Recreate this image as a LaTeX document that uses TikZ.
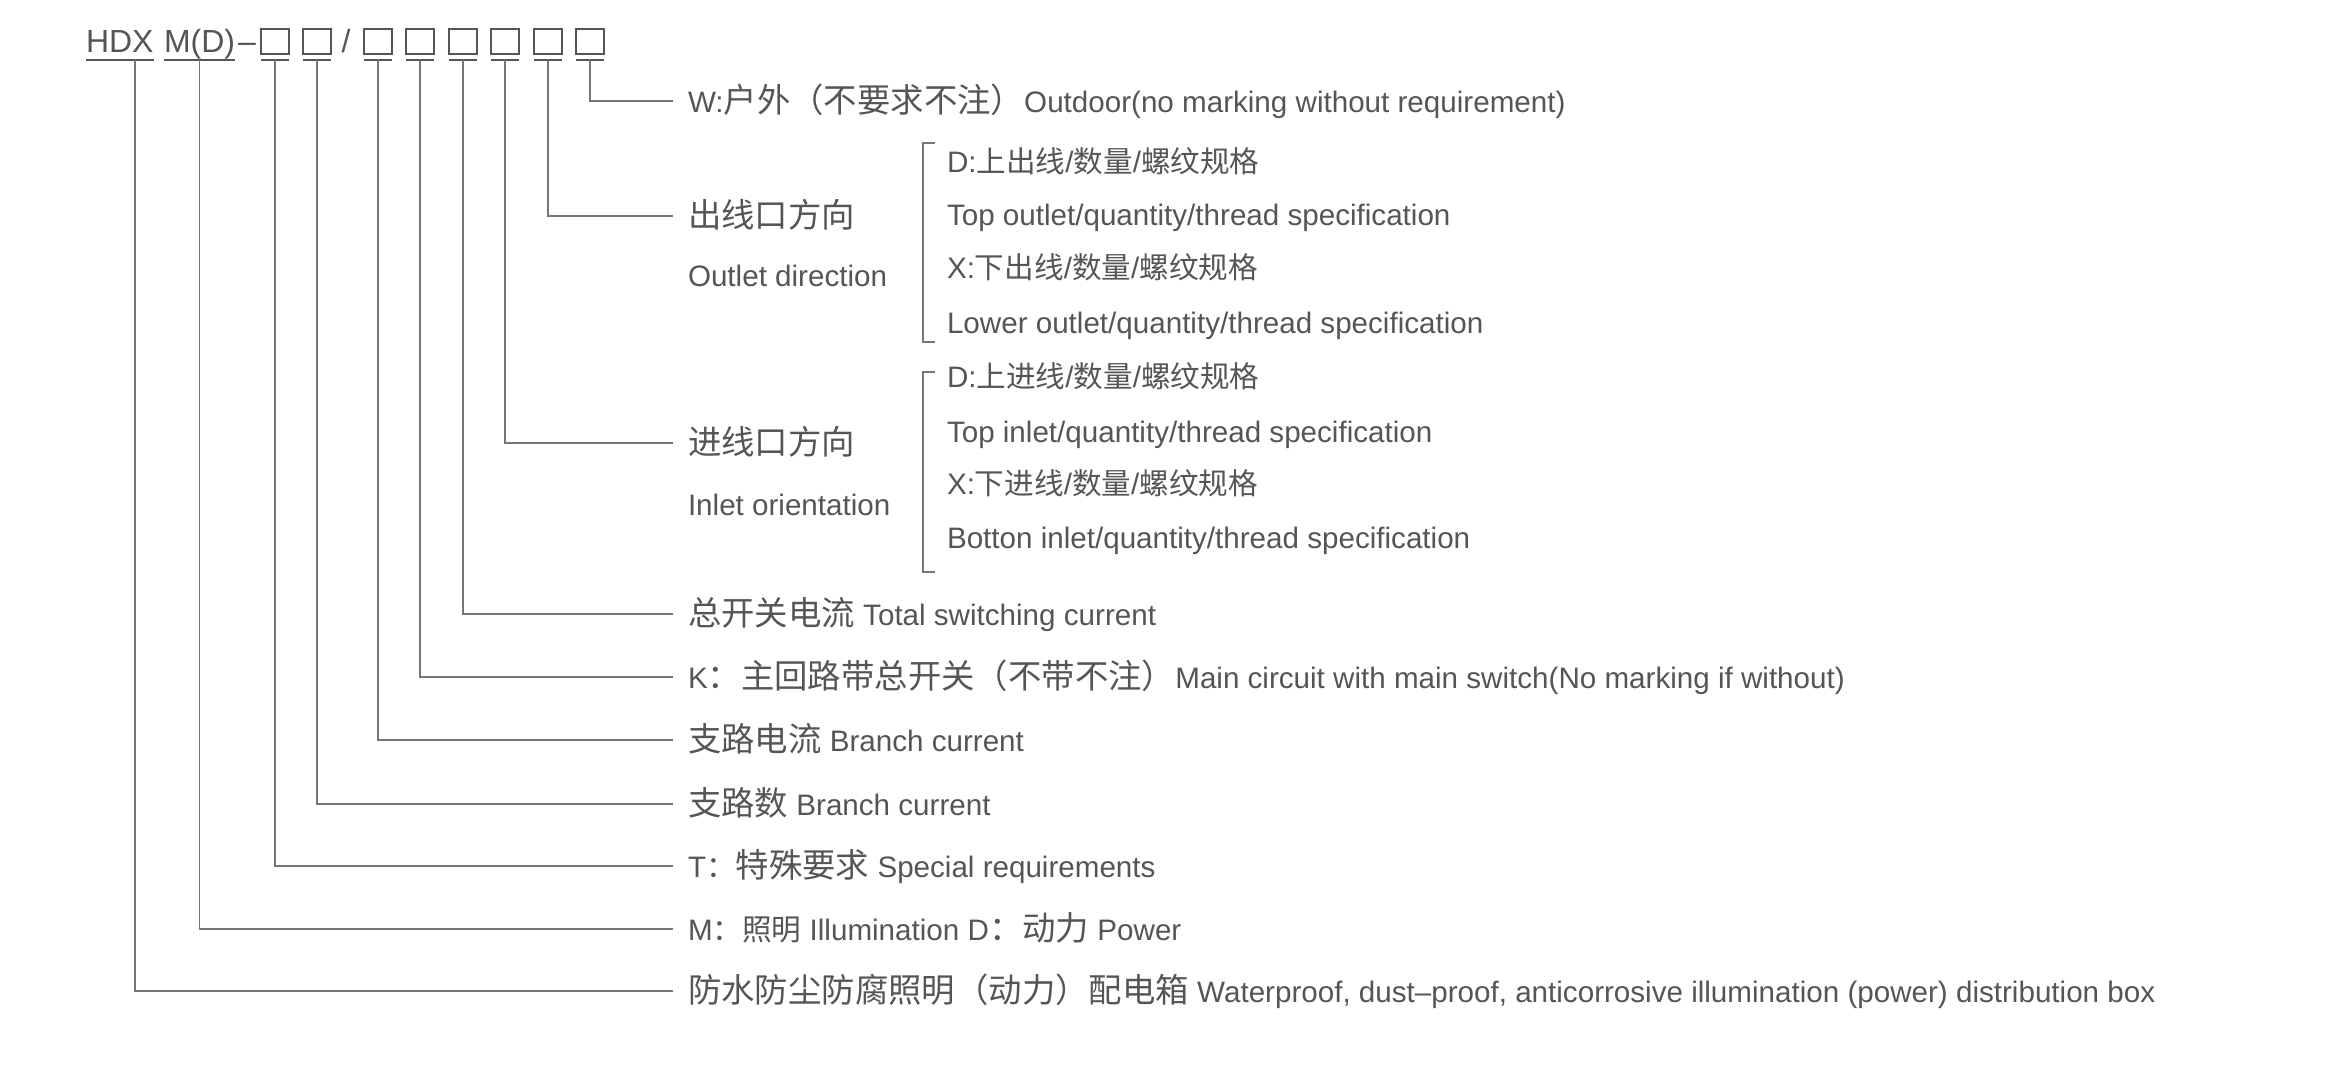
\documentclass[tikz,border=0pt]{standalone}
\usepackage{fontspec}
\setmainfont{Liberation Sans}
\newfontfamily\cjk{Noto Sans CJK SC}
\newcommand\zh[1]{{\cjk #1}}
\newcommand\zhL[1]{{\cjk\fontsize{16.7}{19}\selectfont #1}}
\definecolor{txt}{HTML}{555555}
\definecolor{ln}{HTML}{767676}
\begin{document}
\begin{tikzpicture}[x=0.5pt,y=-0.5pt,
  lbl/.style={anchor=west, inner sep=0, outer sep=0, text=txt, text height=13pt, text depth=2pt, font=\fontsize{14.8}{17}\selectfont},
  hdr/.style={anchor=base west, inner sep=0, outer sep=0, text=txt, font=\fontsize{16}{19}\selectfont},
  phbox/.style={draw=txt, line width=0.9pt, minimum width=14pt, minimum height=12.5pt, inner sep=0, outer sep=0},
  conn/.style={draw=ln, line width=0.9pt},
  uline/.style={draw=txt, line width=1pt},
  brk/.style={draw=ln, line width=0.9pt}
]
\useasboundingbox (0,0) rectangle (2330,1088);

% header
\node[hdr] (hdx) at (86,52) {HDX};
\node[hdr] (md) at (164,52) {M(D)};
\node[hdr] (dash) at (238,52) {–};
\node[hdr, anchor=base] (sl) at (346,52) {/};
\foreach \i/\x in {1/275,2/317,3/378,4/420,5/463,6/505,7/548,8/590}{
  \node[phbox] (b\i) at (\x,41.5) {};
  \draw[uline] ([yshift=-3pt]b\i.south west) -- ([yshift=-3pt]b\i.south east);
}
\draw[uline] ([yshift=-4pt]hdx.base west) -- ([yshift=-4pt]hdx.base east);
\draw[uline] ([yshift=-4pt]md.base west) -- ([yshift=-4pt]md.base east);

% labels
\node[lbl] (w) at (688,101) {W:\zhL{户外（不要求不注）}Outdoor(no marking without requirement)};
\node[lbl] (out) at (688,216) {\zhL{出线口方向}};
\node[lbl] (outen) at (688,275) {Outlet direction};
\node[lbl] (o1) at (947,161) {D:\zh{上出线}/\zh{数量}/\zh{螺纹规格}};
\node[lbl] (o2) at (947,214) {Top outlet/quantity/thread specification};
\node[lbl] (o3) at (947,267) {X:\zh{下出线}/\zh{数量}/\zh{螺纹规格}};
\node[lbl] (o4) at (947,322) {Lower outlet/quantity/thread specification};
\node[lbl] (in) at (688,443) {\zhL{进线口方向}};
\node[lbl] (inen) at (688,504) {Inlet orientation};
\node[lbl] (i1) at (947,376) {D:\zh{上进线}/\zh{数量}/\zh{螺纹规格}};
\node[lbl] (i2) at (947,431) {Top inlet/quantity/thread specification};
\node[lbl] (i3) at (947,483) {X:\zh{下进线}/\zh{数量}/\zh{螺纹规格}};
\node[lbl] (i4) at (947,537) {Botton inlet/quantity/thread specification};
\node[lbl] (tot) at (688,614) {\zhL{总开关电流} Total switching current};
\node[lbl] (k) at (688,677) {K\zhL{：主回路带总开关（不带不注）}Main circuit with main switch(No marking if without)};
\node[lbl] (bc) at (688,740) {\zhL{支路电流} Branch current};
\node[lbl] (bn) at (688,804) {\zhL{支路数} Branch current};
\node[lbl] (t) at (688,866) {T\zh{：}\zhL{特殊要求} Special requirements};
\node[lbl] (m) at (688,929) {M\zh{：照明} Illumination D\zhL{：动力} Power};
\node[lbl] (fx) at (688,991) {\zhL{防水防尘防腐照明（动力）配电箱} Waterproof, dust–proof, anticorrosive illumination (power) distribution box};

% brackets
\draw[brk] (935,143) -- (923,143) -- (923,342) -- (935,342);
\draw[brk] (935,372) -- (923,372) -- (923,572) -- (935,572);

% connectors
\draw[conn] ([xshift=24.5pt,yshift=-4pt]hdx.base west) |- ([xshift=-7.5pt]fx.west);
\draw[conn] ([yshift=-4pt]md.base) |- ([xshift=-7.5pt]m.west);
\draw[conn] ([yshift=-3pt]b1.south) |- ([xshift=-7.5pt]t.west);
\draw[conn] ([yshift=-3pt]b2.south) |- ([xshift=-7.5pt]bn.west);
\draw[conn] ([yshift=-3pt]b3.south) |- ([xshift=-7.5pt]bc.west);
\draw[conn] ([yshift=-3pt]b4.south) |- ([xshift=-7.5pt]k.west);
\draw[conn] ([yshift=-3pt]b5.south) |- ([xshift=-7.5pt]tot.west);
\draw[conn] ([yshift=-3pt]b6.south) |- ([xshift=-7.5pt]in.west);
\draw[conn] ([yshift=-3pt]b7.south) |- ([xshift=-7.5pt]out.west);
\draw[conn] ([yshift=-3pt]b8.south) |- ([xshift=-7.5pt]w.west);
\end{tikzpicture}
\end{document}
